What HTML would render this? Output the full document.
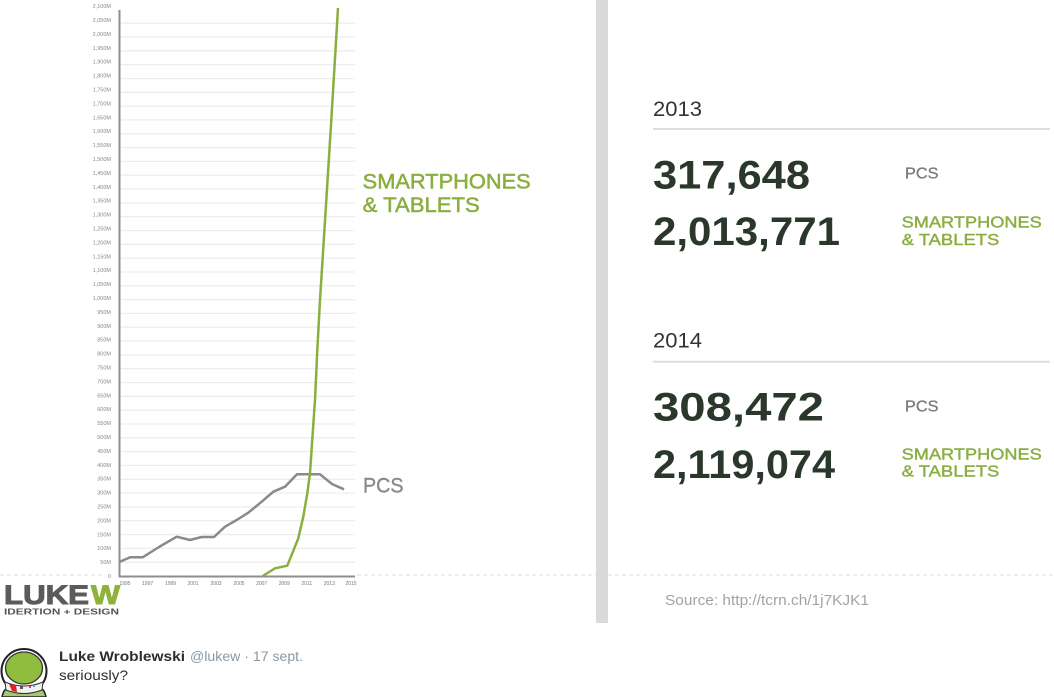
<!DOCTYPE html>
<html><head><meta charset="utf-8"><style>
html,body{margin:0;padding:0;background:#fff;}
svg{display:block;}
text{font-family:"Liberation Sans",Arial,sans-serif;}
</style></head><body>
<svg width="1054" height="697" viewBox="0 0 1054 697" xmlns="http://www.w3.org/2000/svg">
<rect x="0" y="0" width="1054" height="697" fill="#fff"/>
<!-- separator -->
<rect x="596" y="0" width="12" height="623" fill="#dadada"/>
<!-- dashed baseline -->
<g stroke="#dcdcdc" stroke-width="1" stroke-dasharray="4 3">
<line x1="0" y1="575" x2="105" y2="575"/>
<line x1="357" y1="575" x2="596" y2="575"/>
<line x1="608" y1="575" x2="1054" y2="575"/>
</g>
<!-- gridlines y = 576 - k*13.82 -->
<g stroke="#ededed" stroke-width="1.3">
<line x1="121" y1="562.2" x2="355" y2="562.2"/><line x1="121" y1="548.4" x2="355" y2="548.4"/><line x1="121" y1="534.5" x2="355" y2="534.5"/><line x1="121" y1="520.7" x2="355" y2="520.7"/><line x1="121" y1="506.9" x2="355" y2="506.9"/><line x1="121" y1="493.1" x2="355" y2="493.1"/><line x1="121" y1="479.3" x2="355" y2="479.3"/><line x1="121" y1="465.4" x2="355" y2="465.4"/><line x1="121" y1="451.6" x2="355" y2="451.6"/><line x1="121" y1="437.8" x2="355" y2="437.8"/>
<line x1="121" y1="424" x2="355" y2="424"/><line x1="121" y1="410.2" x2="355" y2="410.2"/><line x1="121" y1="396.3" x2="355" y2="396.3"/><line x1="121" y1="382.5" x2="355" y2="382.5"/><line x1="121" y1="368.7" x2="355" y2="368.7"/><line x1="121" y1="354.9" x2="355" y2="354.9"/><line x1="121" y1="341.1" x2="355" y2="341.1"/><line x1="121" y1="327.2" x2="355" y2="327.2"/><line x1="121" y1="313.4" x2="355" y2="313.4"/><line x1="121" y1="299.6" x2="355" y2="299.6"/>
<line x1="121" y1="285.8" x2="355" y2="285.8"/><line x1="121" y1="272" x2="355" y2="272"/><line x1="121" y1="258.1" x2="355" y2="258.1"/><line x1="121" y1="244.3" x2="355" y2="244.3"/><line x1="121" y1="230.5" x2="355" y2="230.5"/><line x1="121" y1="216.7" x2="355" y2="216.7"/><line x1="121" y1="202.9" x2="355" y2="202.9"/><line x1="121" y1="189" x2="355" y2="189"/><line x1="121" y1="175.2" x2="355" y2="175.2"/><line x1="121" y1="161.4" x2="355" y2="161.4"/>
<line x1="121" y1="147.6" x2="355" y2="147.6"/><line x1="121" y1="133.8" x2="355" y2="133.8"/><line x1="121" y1="119.9" x2="355" y2="119.9"/><line x1="121" y1="106.1" x2="355" y2="106.1"/><line x1="121" y1="92.3" x2="355" y2="92.3"/><line x1="121" y1="78.5" x2="355" y2="78.5"/><line x1="121" y1="64.7" x2="355" y2="64.7"/><line x1="121" y1="50.8" x2="355" y2="50.8"/><line x1="121" y1="37" x2="355" y2="37"/><line x1="121" y1="23.2" x2="355" y2="23.2"/>
</g>
<!-- y labels: center = 576 - k*13.9, baseline +2 -->
<g font-size="5.5" fill="#888" text-anchor="end">
<text x="111" y="578">0</text><text x="111" y="564.1">50M</text><text x="111" y="550.2">100M</text><text x="111" y="536.3">150M</text><text x="111" y="522.4">200M</text><text x="111" y="508.5">250M</text><text x="111" y="494.6">300M</text><text x="111" y="480.7">350M</text><text x="111" y="466.8">400M</text><text x="111" y="452.9">450M</text>
<text x="111" y="439">500M</text><text x="111" y="425.1">550M</text><text x="111" y="411.2">600M</text><text x="111" y="397.3">650M</text><text x="111" y="383.4">700M</text><text x="111" y="369.5">750M</text><text x="111" y="355.6">800M</text><text x="111" y="341.7">850M</text><text x="111" y="327.8">900M</text><text x="111" y="313.9">950M</text>
<text x="111" y="300">1,000M</text><text x="111" y="286.1">1,050M</text><text x="111" y="272.2">1,100M</text><text x="111" y="258.3">1,150M</text><text x="111" y="244.4">1,200M</text><text x="111" y="230.5">1,250M</text><text x="111" y="216.6">1,300M</text><text x="111" y="202.7">1,350M</text><text x="111" y="188.8">1,400M</text><text x="111" y="174.9">1,450M</text>
<text x="111" y="161">1,500M</text><text x="111" y="147.1">1,550M</text><text x="111" y="133.2">1,600M</text><text x="111" y="119.3">1,650M</text><text x="111" y="105.4">1,700M</text><text x="111" y="91.5">1,750M</text><text x="111" y="77.6">1,800M</text><text x="111" y="63.7">1,900M</text><text x="111" y="49.8">1,950M</text><text x="111" y="35.9">2,000M</text>
<text x="111" y="22">2,050M</text><text x="111" y="8.1">2,100M</text>
</g>
<!-- x labels -->
<g font-size="5" fill="#777" text-anchor="middle">
<text x="125" y="585">1995</text><text x="147.6" y="585">1997</text><text x="170.5" y="585">1999</text><text x="193" y="585">2001</text><text x="216" y="585">2003</text><text x="239" y="585">2005</text><text x="261.7" y="585">2007</text><text x="284.3" y="585">2009</text><text x="306.8" y="585">2011</text><text x="329.3" y="585">2013</text><text x="351" y="585">2015</text>
</g>
<!-- axes -->
<line x1="119.5" y1="10" x2="119.5" y2="577" stroke="#8e8e8e" stroke-width="2"/>
<line x1="119" y1="576.5" x2="355" y2="576.5" stroke="#8e8e8e" stroke-width="2"/>
<!-- PC line -->
<polyline fill="none" stroke="#8a8a8a" stroke-width="2.5" stroke-linejoin="round" points="120,561.7 130,557.3 142.7,557.3 159,547 176.7,536.7 190,540 201.7,537 214,537 225,526.7 236.7,520 248.3,512.7 261.7,501.7 273.3,491.7 285,486.7 297,474.3 320,474.3 332,484 344,489.3"/>
<!-- Smartphones line -->
<polyline fill="none" stroke="#8aae3f" stroke-width="2.5" stroke-linejoin="round" points="262.7,576 275,568.3 287.3,565.7 298.3,538.3 303.3,516.7 307.3,493.3 310,473.3 312.7,433.3 315,400 317.3,350 320,300 324.5,229 331,125 338,8"/>
<!-- chart labels -->
<text x="362.7" y="188.3" font-size="21" fill="#8aae3f" stroke="#8aae3f" stroke-width="0.5" textLength="168" lengthAdjust="spacingAndGlyphs">SMARTPHONES</text>
<text x="362.7" y="212" font-size="21" fill="#8aae3f" stroke="#8aae3f" stroke-width="0.5" textLength="117" lengthAdjust="spacingAndGlyphs">&amp; TABLETS</text>
<text x="363" y="492.3" font-size="21" fill="#8a8a8a" stroke="#8a8a8a" stroke-width="0.4" textLength="40.5" lengthAdjust="spacingAndGlyphs">PCS</text>
<!-- logo -->
<text x="4" y="604" font-size="27" font-weight="bold" fill="#5b5b5b" stroke="#5b5b5b" stroke-width="1" textLength="85" lengthAdjust="spacingAndGlyphs">LUKE</text>
<text x="91" y="604" font-size="27" font-weight="bold" fill="#8db33a" stroke="#8db33a" stroke-width="1" textLength="29" lengthAdjust="spacingAndGlyphs">W</text>
<text x="4" y="614.5" font-size="8.3" font-weight="bold" fill="#555" textLength="115" lengthAdjust="spacingAndGlyphs">IDERTION + DESIGN</text>
<!-- right panel 2013 -->
<text x="653" y="116" font-size="21" fill="#333" textLength="49" lengthAdjust="spacingAndGlyphs">2013</text>
<line x1="653" y1="129" x2="1050" y2="129" stroke="#dedede" stroke-width="2"/>
<text x="653" y="188.3" font-size="40" font-weight="bold" fill="#2a372b" textLength="157" lengthAdjust="spacingAndGlyphs">317,648</text>
<text x="905" y="178.7" font-size="16" fill="#7a7a7a" stroke="#7a7a7a" stroke-width="0.3" textLength="33.5" lengthAdjust="spacingAndGlyphs">PCS</text>
<text x="653" y="245" font-size="40" font-weight="bold" fill="#2a372b" textLength="187" lengthAdjust="spacingAndGlyphs">2,013,771</text>
<text x="901.7" y="227.3" font-size="16" fill="#8aae3f" stroke="#8aae3f" stroke-width="0.4" textLength="140" lengthAdjust="spacingAndGlyphs">SMARTPHONES</text>
<text x="901.7" y="245" font-size="16" fill="#8aae3f" stroke="#8aae3f" stroke-width="0.4" textLength="97.6" lengthAdjust="spacingAndGlyphs">&amp; TABLETS</text>
<!-- right panel 2014 -->
<text x="653" y="347.3" font-size="21" fill="#333" textLength="49" lengthAdjust="spacingAndGlyphs">2014</text>
<line x1="653" y1="361.7" x2="1050" y2="361.7" stroke="#dedede" stroke-width="2"/>
<text x="653" y="420.7" font-size="40" font-weight="bold" fill="#2a372b" textLength="171" lengthAdjust="spacingAndGlyphs">308,472</text>
<text x="905" y="411.7" font-size="16" fill="#7a7a7a" stroke="#7a7a7a" stroke-width="0.3" textLength="33.5" lengthAdjust="spacingAndGlyphs">PCS</text>
<text x="653" y="478" font-size="40" font-weight="bold" fill="#2a372b" textLength="182" lengthAdjust="spacingAndGlyphs">2,119,074</text>
<text x="901.7" y="459.7" font-size="16" fill="#8aae3f" stroke="#8aae3f" stroke-width="0.4" textLength="140" lengthAdjust="spacingAndGlyphs">SMARTPHONES</text>
<text x="901.7" y="476.7" font-size="16" fill="#8aae3f" stroke="#8aae3f" stroke-width="0.4" textLength="97.6" lengthAdjust="spacingAndGlyphs">&amp; TABLETS</text>
<!-- source -->
<text x="665" y="605" font-size="15" fill="#a3a3a3" textLength="204" lengthAdjust="spacingAndGlyphs">Source: http://tcrn.ch/1j7KJK1</text>
<!-- avatar -->
<path d="M2,697 Q4,686 14,686 L34,686 Q44,686 46,697 Z" fill="#a3c76a" stroke="#222" stroke-width="1.5"/>
<ellipse cx="24" cy="671" rx="22.5" ry="22" fill="#fff" stroke="#222" stroke-width="2"/>
<ellipse cx="24" cy="668" rx="18.5" ry="16" fill="#8fbd3e" stroke="#333" stroke-width="1.3"/>
<path d="M5,682 Q24,690 43,682 L42,690 Q24,697 6,690 Z" fill="#f2f2f2" stroke="#333" stroke-width="1"/>
<path d="M9,684 L16,685 L17,692 L12,691 Z" fill="#d22"/>
<rect x="20" y="686" width="3" height="3" fill="#555"/>
<rect x="29" y="686" width="2" height="2" fill="#e44"/>
<rect x="33" y="685" width="2" height="2" fill="#4ad"/>
<!-- tweet -->
<text x="59" y="661" font-size="14" font-weight="bold" fill="#292f33" textLength="126" lengthAdjust="spacingAndGlyphs">Luke Wroblewski</text>
<text x="190" y="661" font-size="14" fill="#8899a6" textLength="113" lengthAdjust="spacingAndGlyphs">@lukew · 17 sept.</text>
<text x="59" y="680" font-size="14" fill="#292f33" textLength="69" lengthAdjust="spacingAndGlyphs">seriously?</text>
</svg>
</body></html>
